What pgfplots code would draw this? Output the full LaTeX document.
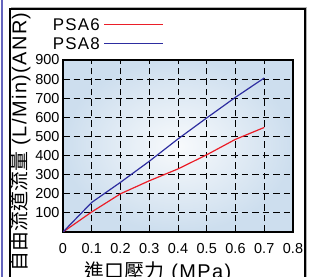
\documentclass[border=0pt]{standalone}
\usepackage{pgfplots}
\pgfplotsset{compat=1.18}
\usepackage{fontspec}
\setmainfont{Liberation Sans}
\newfontfamily\wide[LetterSpace=7]{Liberation Sans}
\newfontfamily\cjk{Noto Sans CJK TC}
\definecolor{redline}{RGB}{235,30,40}
\definecolor{blueline}{RGB}{45,45,160}
\definecolor{bginner}{RGB}{248,250,252}
\definecolor{bgouter}{RGB}{205,222,238}
\definecolor{sideblue}{RGB}{100,100,190}
\begin{document}
\begin{tikzpicture}
\path[use as bounding box] (0,0) rectangle (317bp,277bp);
\draw[sideblue, line width=1.6bp] (2bp,-5bp) -- (2bp,282bp);
\draw[gray!60, line width=1bp] (11bp,269.5bp) -- (306.5bp,269.5bp) -- (306.5bp,-5bp);
\draw[black, line width=1.1bp] (10bp,-5bp) -- (10bp,268bp) -- (305bp,268bp) -- (305bp,-5bp);
% legend
\node[anchor=base east, inner sep=0pt, font=\fontsize{17}{17}\wide] at (100bp,246bp) {PSA6};
\draw[redline, line width=1.2bp] (104bp,252.7bp) -- (163bp,252.7bp);
\node[anchor=base east, inner sep=0pt, font=\fontsize{17}{17}\wide] at (100bp,227bp) {PSA8};
\draw[blueline, line width=1.2bp] (104bp,233.7bp) -- (163bp,233.7bp);
\begin{axis}[
  at={(63bp,45bp)}, anchor=south west,
  scale only axis, width=230bp, height=172bp,
  xmin=0, xmax=0.8, ymin=0, ymax=900,
  xtick={0,0.1,...,0.8}, ytick={100,200,...,900},
  xticklabels={0,0.1,0.2,0.3,0.4,0.5,0.6,0.7,0.8},
  major tick length=0pt,
  /pgf/number format/assume math mode=true,
  tick label style={font=\fontsize{14.5}{14.5}\selectfont},
  xticklabel style={yshift=-8bp},
  grid=major,
  major grid style={black, line width=0.9bp, dash pattern=on 6.5bp off 4bp},
  axis line style={black, line width=1.1bp},
  axis background/.style={shade, shading=radial, inner color=bginner, outer color=bgouter},
  xlabel={{\cjk 進口壓力} (MPa)},
  ylabel={{\cjk 自由流道流量} (L/Min)(ANR)},
  label style={font=\fontsize{20}{20}\wide},
  xlabel style={xshift=-20bp, yshift=-1bp},
  ylabel style={xshift=4bp, yshift=-2bp},
]
\addplot[draw=redline, line width=1.2bp] coordinates {
  (0,0) (0.1,105) (0.2,200) (0.3,268) (0.4,330) (0.5,404) (0.6,485) (0.7,547)
};
\addplot[draw=blueline, line width=1.2bp] coordinates {
  (0,0) (0.1,155) (0.2,260) (0.3,370) (0.4,487) (0.5,597) (0.6,705) (0.7,806)
};
\end{axis}
\end{tikzpicture}
\end{document}
